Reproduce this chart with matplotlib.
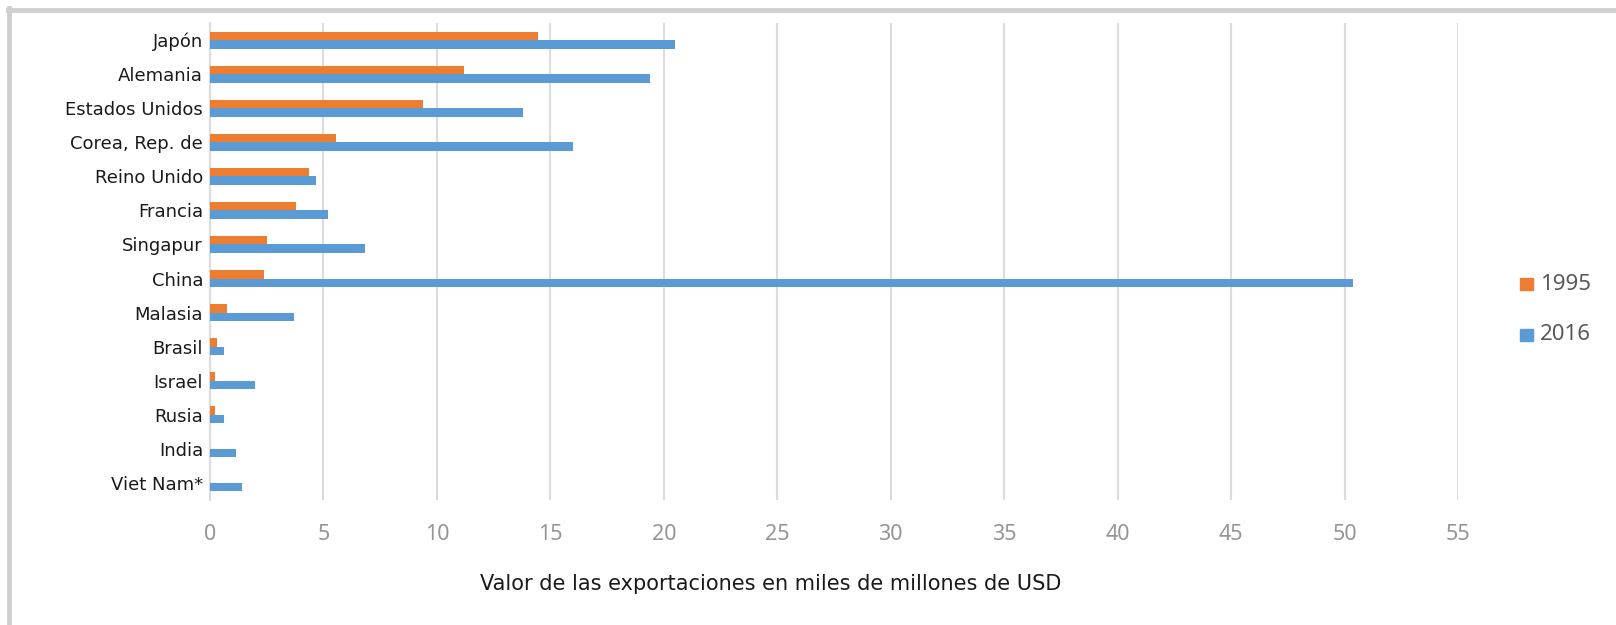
import matplotlib.pyplot as plt
from matplotlib.lines import Line2D
from matplotlib.patches import Rectangle
import numpy as np

# --- data ---
countries = ["Japón", "Alemania", "Estados Unidos", "Corea, Rep. de", "Reino Unido",
             "Francia", "Singapur", "China", "Malasia", "Brasil", "Israel", "Rusia",
             "India", "Viet Nam*"]
exports_1995 = [14.45, 11.2, 9.38, 5.56, 4.38, 3.79, 2.5, 2.38, 0.74, 0.3, 0.22, 0.22, 0.0, 0.0]
exports_2016 = [20.5, 19.4, 13.8, 16.0, 4.65, 5.22, 6.84, 50.36, 3.7, 0.62, 2.0, 0.62, 1.15, 1.42]
years = ["1995", "2016"]
x_ticks = list(range(0, 60, 5))

c_1995 = '#ED7D31'
c_2016 = '#5B9BD5'

fig = plt.figure(figsize=(16.16, 6.25), dpi=100)
ax = fig.add_axes([210 / 1616, 1 - 500 / 625, (1458 - 210) / 1616, 477 / 625])

y = np.arange(len(countries))
bar_h = 0.25
ax.barh(y - bar_h / 2, exports_1995, height=bar_h, color=c_1995, zorder=3)
ax.barh(y + bar_h / 2, exports_2016, height=bar_h, color=c_2016, zorder=3)

ax.set_ylim(len(countries) - 0.5, -0.5)
ax.set_xlim(0, 55)
ax.set_yticks(y)
ax.set_yticklabels(countries, fontsize=13, family='DejaVu Sans', color='#1a1a1a')
ax.set_xticks(x_ticks)
ax.set_xticklabels([str(t) for t in x_ticks], fontsize=15.5, family='Noto Sans',
                   color='#959595')
ax.tick_params(axis='y', length=0, pad=5)
ax.tick_params(axis='x', length=0, pad=17)

ax.grid(axis='x', color='#dcdcdc', linewidth=1.5, zorder=0)
for side in ['top', 'right', 'bottom']:
    ax.spines[side].set_visible(False)
ax.spines['left'].set_color('#dcdcdc')
ax.spines['left'].set_linewidth(1.5)

fig.text(771 / 1616, 1 - 584 / 625, "Valor de las exportaciones en miles de millones de USD",
         ha='center', va='center', fontsize=15, family='DejaVu Sans', color='#1a1a1a')

# legend drawn by hand to sit like the Excel one
for lab, col, ypx in zip(years, [c_1995, c_2016], [284, 335]):
    fig.add_artist(Rectangle((1520 / 1616, 1 - (ypx + 6) / 625), 13 / 1616, 12 / 625,
                             transform=fig.transFigure, color=col))
    fig.text(1540 / 1616, 1 - ypx / 625, lab, ha='left', va='center', fontsize=16,
             family='Noto Sans', color='#595959')

# outer frame (only top and left edges show in the crop)
fig.add_artist(Line2D([8 / 1616, 1], [1 - 10 / 625, 1 - 10 / 625], transform=fig.transFigure,
                      color='#cfcfcf', linewidth=3.5))
fig.add_artist(Line2D([9 / 1616, 9 / 1616], [0, 1 - 8 / 625], transform=fig.transFigure,
                      color='#cfcfcf', linewidth=3.5))

fig.savefig("out.png", dpi=100)
